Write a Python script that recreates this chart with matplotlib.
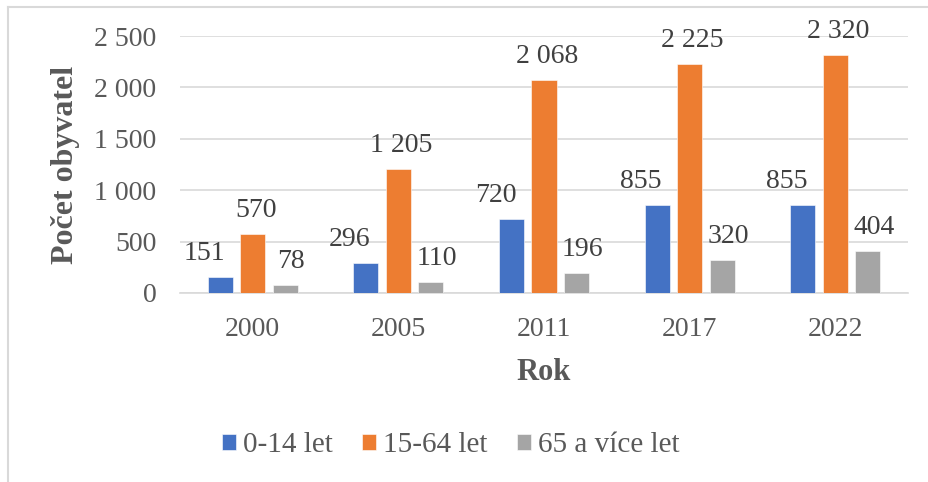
import numpy as np
import matplotlib
matplotlib.use("Agg")
import matplotlib.pyplot as plt
from matplotlib.ticker import FuncFormatter, MultipleLocator
from matplotlib.lines import Line2D

# Data
years = ["2000", "2005", "2011", "2017", "2022"]
kids = [151, 296, 720, 855, 855]
adults = [570, 1205, 2068, 2225, 2320]
seniors = [78, 110, 196, 320, 404]
series_names = ["0-14 let", "15-64 let", "65 a více let"]

colors = ["#4472C4", "#ED7D31", "#A5A5A5"]
label_shift = [-16, 3, 6]   # horizontal label offsets in pixels (Excel-style)


def fmt(v):
    return f"{int(v):,}".replace(",", " ")


plt.rcParams["font.family"] = ["Liberation Serif", "DejaVu Serif"]

fig = plt.figure(figsize=(9.29, 4.82), dpi=100)
ax = fig.add_axes([180 / 929, 1 - 293 / 482, 728 / 929, 257 / 482])

x = np.arange(len(years))
width = 0.172
step = 0.2235

for i, (vals, name) in enumerate(zip([kids, adults, seniors], series_names)):
    pos = x + (i - 1) * step
    ax.bar(pos, vals, width, color=colors[i], label=name, zorder=3,
           edgecolor="white", linewidth=0.4)
    for p, v in zip(pos, vals):
        ax.annotate(fmt(v), (p, v), xytext=(label_shift[i], 17),
                    textcoords="offset pixels", ha="center", va="baseline",
                    fontsize=20, color="#404040")

ax.set_xlim(-0.5, len(years) - 0.5)
ax.set_ylim(0, 2500)
ax.yaxis.set_major_locator(MultipleLocator(500))
ax.yaxis.set_major_formatter(FuncFormatter(lambda v, _: fmt(v)))
ax.set_xticks(x)
ax.set_xticklabels(years)

ax.grid(axis="y", color="#d9d9d9", linewidth=1.2, zorder=0)
for side in ["top", "right", "left"]:
    ax.spines[side].set_visible(False)
ax.spines["bottom"].set_color("#d9d9d9")
ax.spines["bottom"].set_linewidth(1.2)
ax.tick_params(axis="both", length=0, labelsize=20, labelcolor="#595959")
ax.tick_params(axis="y", pad=17)
ax.tick_params(axis="x", pad=17)

ax.set_ylabel("Počet obyvatel", fontsize=23, fontweight="bold", color="#595959",
              labelpad=10)
ax.set_xlabel("Rok", fontsize=22, fontweight="bold", color="#595959", labelpad=12)

leg = fig.legend(loc="center", bbox_to_anchor=(450.5 / 929, 1 - 445 / 482),
                 ncol=3, frameon=False, fontsize=21, handlelength=0.48,
                 handleheight=0.48, handletextpad=0.25, columnspacing=1.0)
for t in leg.get_texts():
    t.set_color("#595959")

# chart frame (top and left edges visible in the crop)
fig.add_artist(Line2D([8 / 929, 8 / 929], [0, 1 - 7 / 482], color="#d9d9d9",
                      linewidth=1.5, transform=fig.transFigure))
fig.add_artist(Line2D([8 / 929, 1], [1 - 7 / 482, 1 - 7 / 482], color="#d9d9d9",
                      linewidth=1.5, transform=fig.transFigure))

fig.savefig("out.png", dpi=100, facecolor="white")
